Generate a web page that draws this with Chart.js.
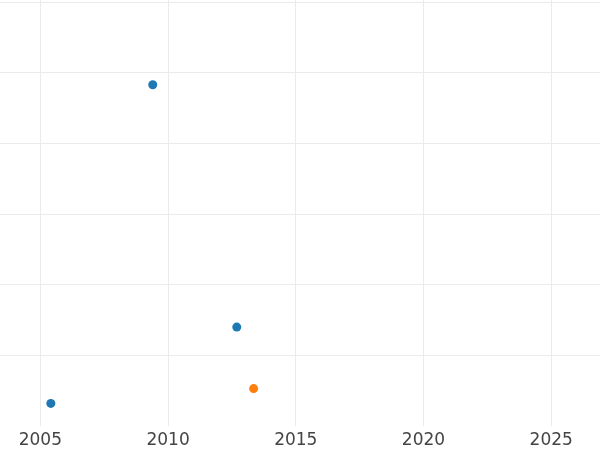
<!DOCTYPE html>
<html>
<head>
<meta charset="utf-8">
<script src="https://cdn.jsdelivr.net/npm/chart.js@4"></script>
<style>
  html, body { margin: 0; padding: 0; background: #fff; }
  #wrap { width: 600px; height: 450px; }
</style>
</head>
<body>
<div id="wrap"><canvas id="chart"></canvas></div>
<script>
// ================= データ =================
const blueYears = [2009.4, 2012.69, 2005.41];
const blueValues = [4.83, 1.40, 0.32];
const orangeYears = [2013.35];
const orangeValues = [0.53];

const xMin = 2003.42;
const xMax = 2026.91;
const yMin = 0;
const yMax = 6.03;

const toPoints = (xs, ys) => xs.map((x, i) => ({ x, y: ys[i] }));

// ================= グラフ =================
const gridColor = "#ebebeb";

new Chart(document.getElementById("chart"), {
  type: "scatter",
  data: {
    datasets: [
      {
        label: "A",
        data: toPoints(blueYears, blueValues),
        backgroundColor: "#1f77b4",
        borderColor: "#1f77b4",
        pointRadius: 4.5,
        borderWidth: 0
      },
      {
        label: "B",
        data: toPoints(orangeYears, orangeValues),
        backgroundColor: "#ff7f0e",
        borderColor: "#ff7f0e",
        pointRadius: 4.5,
        borderWidth: 0
      }
    ]
  },
  options: {
    responsive: true,
    maintainAspectRatio: false,
    animation: false,
    layout: { padding: 0, autoPadding: false },
    plugins: {
      legend: { display: false },
      tooltip: { enabled: false }
    },
    scales: {
      x: {
        type: "linear",
        min: xMin,
        max: xMax,
        border: { display: false },
        grid: { color: gridColor, drawTicks: false },
        ticks: {
          stepSize: 5,
          includeBounds: false,
          padding: 4,
          color: "#444",
          font: { family: "DejaVu Sans", size: 17 },
          callback: v => String(v)
        },
        afterFit: axis => { axis.height = 24; }
      },
      y: {
        min: yMin,
        max: yMax,
        border: { display: false },
        grid: {
          drawTicks: false,
          color: c => (c.tick && c.tick.value === 0 ? "rgba(0,0,0,0)" : gridColor)
        },
        ticks: { display: false, stepSize: 1, includeBounds: false }
      }
    }
  }
});
</script>
</body>
</html>
